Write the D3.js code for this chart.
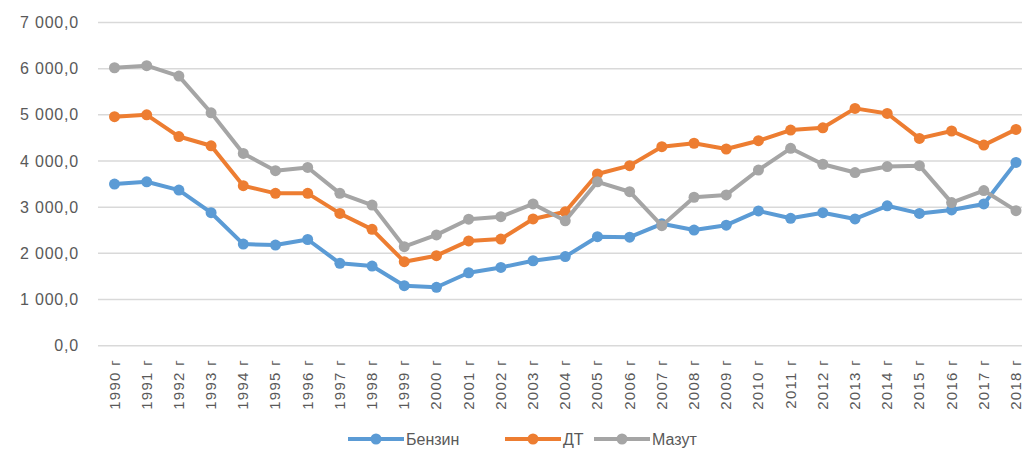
<!DOCTYPE html>
<html>
<head>
<meta charset="utf-8">
<style>
  body { margin: 0; background: #fff; }
  svg text { font-family: "Liberation Sans", Arial, sans-serif; fill: #595959; }
</style>
</head>
<body>
<div id="chart"></div>
<script src="https://cdnjs.cloudflare.com/ajax/libs/d3/7.8.5/d3.min.js"></script>
<script>
var years = ["1990 г","1991 г","1992 г","1993 г","1994 г","1995 г","1996 г","1997 г","1998 г","1999 г",
             "2000 г","2001 г","2002 г","2003 г","2004 г","2005 г","2006 г","2007 г","2008 г","2009 г",
             "2010 г","2011 г","2012 г","2013 г","2014 г","2015 г","2016 г","2017 г","2018 г"];

var benzin = [3500,3550,3370,2880,2200,2180,2300,1785,1725,1300,
              1265,1580,1695,1840,1930,2360,2350,2640,2505,2610,
              2920,2760,2880,2745,3030,2865,2940,3070,3970];

var dt = [4960,5000,4530,4330,3465,3300,3300,2865,2520,1820,
          1950,2270,2310,2745,2900,3720,3900,4310,4385,4260,
          4440,4670,4720,5140,5030,4490,4650,4345,4685];

var mazut = [6020,6065,5840,5045,4165,3790,3860,3300,3045,2145,
             2400,2740,2795,3070,2705,3550,3335,2600,3215,3265,
             3805,4275,3930,3750,3880,3900,3100,3360,2925];

var yTicks = [0,1000,2000,3000,4000,5000,6000,7000];

var seriesNames = ["Бензин","ДТ","Мазут"];
var colors = ["#5B9BD5","#ED7D31","#A5A5A5"];

var width = 1022, height = 450;

var svg = d3.select("#chart").append("svg")
    .attr("width", width)
    .attr("height", height);

var x = d3.scalePoint()
    .domain(years)
    .range([114.5, 1016]);

var y = d3.scaleLinear()
    .domain([0, 7000])
    .range([345.7, 22.5]);

// gridlines
svg.append("g")
  .selectAll("line")
  .data(yTicks)
  .enter().append("line")
  .attr("x1", 98)
  .attr("x2", 1032)
  .attr("y1", function(d){ return y(d); })
  .attr("y2", function(d){ return y(d); })
  .attr("stroke", "#D9D9D9")
  .attr("stroke-width", 1.5);

// y labels
var fmt = function(d){
  var s = d3.format(",.1f")(d);
  return s.replace(/,/g, " ").replace(".", ",");
};
svg.append("g")
  .selectAll("text")
  .data(yTicks)
  .enter().append("text")
  .attr("x", 79)
  .attr("y", function(d){ return y(d); })
  .attr("dy", "0.35em")
  .attr("text-anchor", "end")
  .style("font-size", "16px")
  .style("letter-spacing", "0.8px")
  .text(fmt);

// x labels
svg.append("g")
  .selectAll("text")
  .data(years)
  .enter().append("text")
  .attr("transform", function(d){ return "translate(" + (x(d) + 5) + ",359) rotate(-90)"; })
  .attr("text-anchor", "end")
  .style("font-size", "15px")
  .style("letter-spacing", "1.3px")
  .text(function(d){ return d; });

// series
var allSeries = [benzin, dt, mazut];
var line = d3.line()
    .x(function(d, i){ return x(years[i]); })
    .y(function(d){ return y(d); });

allSeries.forEach(function(vals, k){
  var g = svg.append("g");
  g.append("path")
    .datum(vals)
    .attr("fill", "none")
    .attr("stroke", colors[k])
    .attr("stroke-width", 4)
    .attr("stroke-linejoin", "round")
    .attr("d", line);
  g.selectAll("circle")
    .data(vals)
    .enter().append("circle")
    .attr("cx", function(d, i){ return x(years[i]); })
    .attr("cy", function(d){ return y(d); })
    .attr("r", 5.5)
    .attr("fill", colors[k]);
});

// legend
var legendX = [348, 505, 594];
var legend = svg.append("g");
seriesNames.forEach(function(name, k){
  var lx = legendX[k];
  legend.append("line")
    .attr("x1", lx).attr("x2", lx + 56)
    .attr("y1", 439).attr("y2", 439)
    .attr("stroke", colors[k])
    .attr("stroke-width", 4);
  legend.append("circle")
    .attr("cx", lx + 28).attr("cy", 439)
    .attr("r", 5.5)
    .attr("fill", colors[k]);
  legend.append("text")
    .attr("x", lx + 58)
    .attr("y", 439)
    .attr("dy", "0.35em")
    .style("font-size", "16px")
    .text(name);
});
</script>
</body>
</html>
